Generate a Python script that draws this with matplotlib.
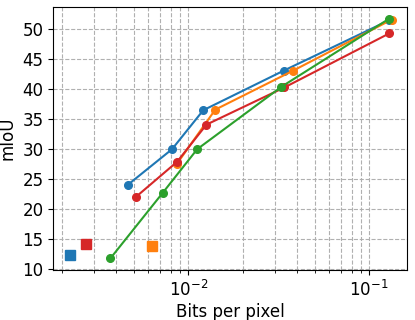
import matplotlib
matplotlib.use("Agg")
import matplotlib.pyplot as plt
from matplotlib.ticker import MultipleLocator

# bits per pixel / mIoU per method
blue_bpp = [0.00465, 0.00813, 0.0121, 0.0337, 0.129]
blue_miou = [24.1, 30.0, 36.5, 43.1, 51.5]
orange_bpp = [0.00867, 0.0141, 0.0377, 0.133]
orange_miou = [27.6, 36.6, 43.05, 51.6]
green_bpp = [0.00371, 0.00721, 0.0112, 0.0327, 0.128]
green_miou = [11.8, 22.7, 30.0, 40.4, 51.7]
red_bpp = [0.00516, 0.00867, 0.0126, 0.0340, 0.129]
red_miou = [22.1, 27.9, 34.1, 40.3, 49.3]

# single-point baselines (squares)
sq_bpp = [0.00221, 0.00627, 0.00273]
sq_miou = [12.3, 13.9, 14.2]
sq_colors = ['tab:blue', 'tab:orange', 'tab:red']

fig = plt.figure(figsize=(4.15, 3.2), dpi=100)
ax = fig.add_axes([0.128, 0.156, 0.853, 0.822])

ax.plot(blue_bpp, blue_miou, 'o-', color='tab:blue', ms=5.5, lw=1.5)
ax.plot(orange_bpp, orange_miou, 'o-', color='tab:orange', ms=5.5, lw=1.5)
ax.plot(red_bpp, red_miou, 'o-', color='tab:red', ms=5.5, lw=1.5)
ax.plot(green_bpp, green_miou, 'o-', color='tab:green', ms=5.5, lw=1.5)
for x, y, c in zip(sq_bpp, sq_miou, sq_colors):
    ax.plot(x, y, 's', color=c, ms=7)

ax.set_xscale('log')
ax.set_xlim(0.00179, 0.162)
ax.set_ylim(9.85, 53.7)
ax.yaxis.set_major_locator(MultipleLocator(5))
ax.grid(True, which='both', linestyle='--', color='#b0b0b0', lw=0.8)
ax.set_xlabel('Bits per pixel', fontsize=12, labelpad=2)
ax.set_ylabel('mIoU', fontsize=12)
ax.tick_params(labelsize=12)

fig.savefig('out.png', dpi=100)
